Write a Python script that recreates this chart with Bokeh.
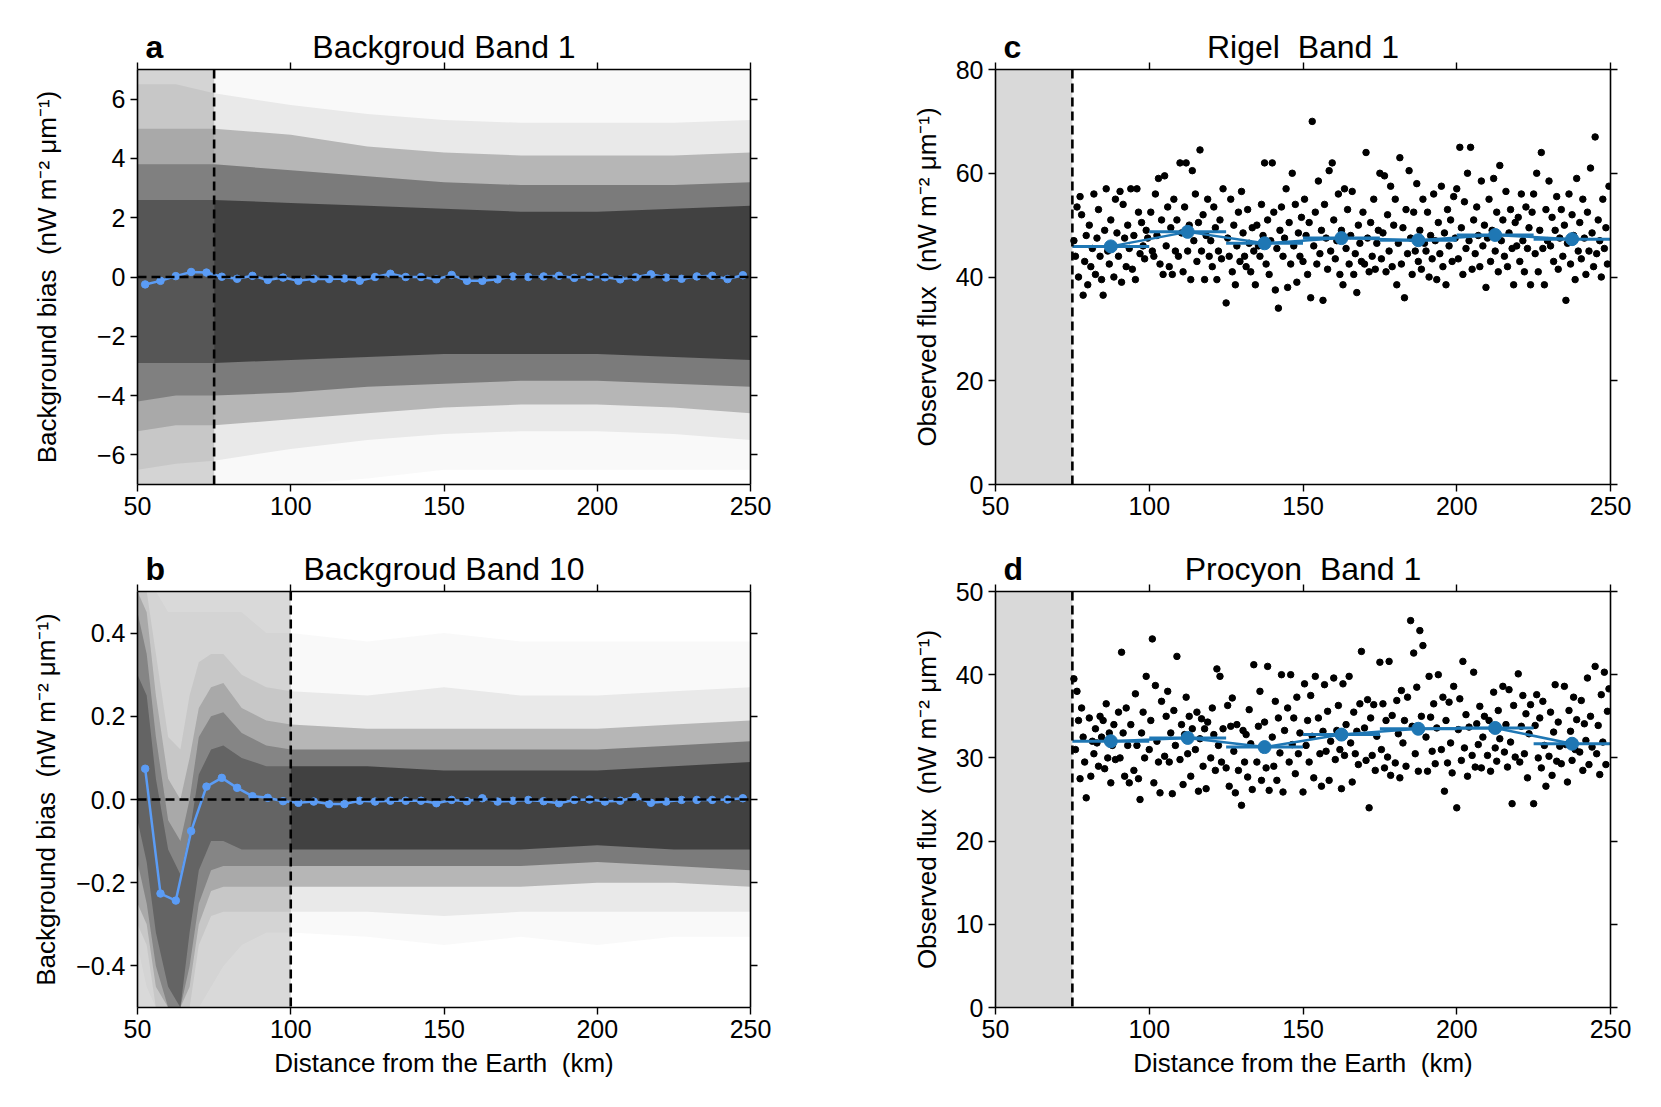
from bokeh.plotting import figure
from bokeh.models import LinearAxis, Range1d, CustomJSTickFormatter, FixedTicker, Span, Title
from bokeh.layouts import column, row
from bokeh.embed import file_html
from bokeh.resources import INLINE

FONT = "Liberation Sans"
SP2 = " \u00a0"  # double space that survives SVG whitespace collapsing

# ---------------- data ----------------
bin_x = [52.5 + 5 * i for i in range(40)]
bias_a = [-0.25, -0.13, 0.03, 0.17, 0.15, 0.01, -0.06, 0.04, -0.10, -0.02,
          -0.13, -0.06, -0.07, -0.05, -0.13, 0.00, 0.11, 0.00, 0.00, -0.08,
          0.07, -0.13, -0.13, -0.08, 0.02, 0.00, 0.02, 0.04, -0.03, 0.01,
          -0.01, -0.08, -0.01, 0.09, -0.02, -0.06, 0.02, 0.04, -0.07, 0.06]
bias_b = [0.074, -0.226, -0.243, -0.076, 0.031, 0.052, 0.028, 0.008, 0.004, -0.004,
          -0.008, -0.005, -0.011, -0.011, -0.003, -0.005, -0.003, -0.003, -0.003, -0.009,
          -0.001, -0.004, 0.003, -0.005, -0.003, -0.001, -0.004, -0.009, -0.001, 0.0,
          -0.005, -0.003, 0.006, -0.008, -0.005, -0.001, -0.001, -0.001, 0.0, 0.003]

# density envelopes of the background point clouds (outer -> core)
env_a_x = [50, 62.5, 75, 100, 125, 150, 175, 200, 225, 250]
env_a_up = [[7.0, 7.0, 7.0, 7.0, 7.0, 7.0, 7.0, 7.0, 7.0, 7.0],
            [6.5, 6.5, 6.2, 5.8, 5.5, 5.3, 5.2, 5.2, 5.2, 5.3],
            [5.0, 5.0, 5.0, 4.8, 4.4, 4.2, 4.1, 4.1, 4.1, 4.2],
            [3.8, 3.8, 3.8, 3.6, 3.4, 3.2, 3.1, 3.1, 3.1, 3.2],
            [2.6, 2.6, 2.6, 2.5, 2.4, 2.3, 2.2, 2.2, 2.3, 2.4]]
env_a_lo = [[-7.0, -7.0, -7.0, -7.0, -6.8, -6.5, -6.5, -6.5, -6.5, -6.5],
            [-6.5, -6.3, -6.2, -5.8, -5.5, -5.3, -5.2, -5.2, -5.3, -5.5],
            [-5.2, -5.0, -5.0, -4.8, -4.6, -4.4, -4.3, -4.3, -4.4, -4.6],
            [-4.2, -4.0, -4.0, -3.9, -3.7, -3.6, -3.5, -3.5, -3.6, -3.7],
            [-2.9, -2.9, -2.9, -2.8, -2.7, -2.6, -2.6, -2.6, -2.7, -2.8]]

env_b_x = [50, 53, 56, 60, 64, 67, 70, 74, 78, 84, 92, 100, 125, 150, 175, 200, 225, 250]
env_b_up = [[0.5, 0.5, 0.5, 0.45, 0.45, 0.45, 0.45, 0.45, 0.45, 0.45, 0.4, 0.4, 0.38, 0.4, 0.38, 0.38, 0.38, 0.38],
            [0.5, 0.5, 0.35, 0.15, 0.12, 0.25, 0.33, 0.35, 0.35, 0.3, 0.27, 0.26, 0.25, 0.27, 0.25, 0.25, 0.26, 0.27],
            [0.5, 0.45, 0.25, 0.05, 0.0, 0.1, 0.22, 0.27, 0.28, 0.22, 0.19, 0.18, 0.17, 0.17, 0.17, 0.17, 0.18, 0.19],
            [0.45, 0.35, 0.15, -0.05, -0.1, 0.0, 0.15, 0.2, 0.21, 0.16, 0.13, 0.12, 0.12, 0.12, 0.12, 0.12, 0.13, 0.14],
            [0.3, 0.25, 0.05, -0.12, -0.18, -0.08, 0.06, 0.12, 0.13, 0.1, 0.08, 0.08, 0.08, 0.07, 0.07, 0.07, 0.08, 0.09]]
env_b_lo = [[-0.35, -0.45, -0.5, -0.5, -0.5, -0.5, -0.5, -0.45, -0.4, -0.35, -0.32, -0.32, -0.33, -0.35, -0.33, -0.35, -0.33, -0.33],
            [-0.3, -0.35, -0.5, -0.5, -0.5, -0.5, -0.35, -0.28, -0.27, -0.27, -0.27, -0.27, -0.27, -0.28, -0.27, -0.27, -0.27, -0.27],
            [-0.25, -0.3, -0.45, -0.5, -0.5, -0.45, -0.3, -0.22, -0.21, -0.21, -0.21, -0.21, -0.21, -0.21, -0.21, -0.2, -0.2, -0.21],
            [-0.15, -0.25, -0.4, -0.5, -0.5, -0.4, -0.25, -0.17, -0.16, -0.16, -0.16, -0.16, -0.16, -0.16, -0.16, -0.15, -0.16, -0.17],
            [-0.05, -0.15, -0.32, -0.45, -0.5, -0.32, -0.17, -0.1, -0.1, -0.12, -0.12, -0.12, -0.12, -0.12, -0.12, -0.11, -0.12, -0.12]]

star_bins = [87.5, 112.5, 137.5, 162.5, 187.5, 212.5, 237.5]
rigel_mean = [45.9, 48.7, 46.5, 47.5, 47.1, 48.1, 47.3]
procyon_mean = [32.0, 32.4, 31.3, 32.8, 33.5, 33.6, 31.7]

rigel_x = [75.5, 76, 76.5, 77, 77.5, 78, 78.5, 79, 79.5, 80,
           80.5, 81, 81.5, 82, 82.5, 83, 83.5, 84, 84.5,
           85, 85.5, 86, 86.5, 87, 87.5, 88, 88.5, 89, 89.5,
           90, 90.5, 91, 91.5, 92, 92.5, 93, 93.5, 94, 94.5,
           95, 95.5, 96, 96.5, 97, 97.5, 98, 98.5, 99, 99.5,
           100.5, 101, 101.5, 102, 102.5, 103, 103.5, 104, 104.5, 105,
           105.5, 106, 106.5, 107, 107.5, 108, 108.5, 109, 109.5,
           110, 110.5, 111, 111.5, 112, 112.5, 113, 113.5, 114, 114.5,
           115, 115.5, 116, 116.5, 117, 117.5, 118, 118.5, 119, 119.5,
           120, 120.5, 121, 121.5, 122, 122.5, 123, 123.5, 124,
           125, 125.5, 126, 126.5, 127, 127.5, 128, 128.5, 129, 129.5,
           130, 130.5, 131, 131.5, 132, 132.5, 133, 133.5, 134, 134.5,
           135, 135.5, 136, 136.5, 137, 137.5, 138, 138.5, 139, 139.5,
           140, 140.5, 141, 141.5, 142, 142.5, 143, 143.5, 144, 144.5,
           145, 145.5, 146, 146.5, 147, 147.5, 148, 148.5, 149, 149.5,
           150, 150.5, 151, 151.5, 152, 152.5, 153, 153.5, 154, 154.5,
           155, 155.5, 156, 156.5, 157, 157.5, 158, 158.5, 159, 159.5,
           160, 160.5, 161, 161.5, 162, 162.5, 163, 163.5, 164, 164.5,
           165, 165.5, 166, 166.5, 167, 167.5, 168, 168.5, 169, 169.5,
           170, 170.5, 171, 171.5, 172, 172.5, 173, 173.5, 174, 174.5,
           175, 175.5, 176, 176.5, 177, 177.5, 178, 178.5, 179, 179.5,
           180, 180.5, 181, 181.5, 182, 182.5, 183, 183.5, 184, 184.5,
           185, 185.5, 186, 186.5, 187, 187.5, 188, 188.5, 189, 189.5,
           190, 190.5, 191, 191.5, 192, 192.5, 193, 193.5, 194, 194.5,
           195, 195.5, 196, 196.5, 197, 197.5, 198, 198.5, 199, 199.5,
           200, 200.5, 201, 201.5, 202, 202.5, 203, 203.5, 204, 204.5,
           205, 205.5, 206, 206.5, 207, 207.5, 208, 208.5, 209, 209.5,
           210, 210.5, 211, 211.5, 212, 212.5, 213, 213.5, 214, 214.5,
           215, 215.5, 216, 216.5, 217, 217.5, 218, 218.5, 219, 219.5,
           220, 220.5, 221, 221.5, 222, 222.5, 223, 223.5, 224, 224.5,
           225, 225.5, 226, 226.5, 227, 227.5, 228, 228.5, 229, 229.5,
           230, 230.5, 231, 231.5, 232, 232.5, 233, 233.5, 234, 234.5,
           235, 235.5, 236, 236.5, 237, 237.5, 238, 238.5, 239, 239.5,
           240, 240.5, 241, 241.5, 242, 242.5, 243, 243.5, 244, 244.5,
           245, 245.5, 246, 246.5, 247, 247.5, 248, 248.5, 249, 249.5]
rigel_y = [47, 44, 53.5, 40, 55.5, 52, 36.5, 43, 48, 38.5,
           50, 42, 45.5, 56, 40.5, 47.5, 53, 44, 39.5,
           36.5, 49, 57, 45, 42.5, 51, 46, 40, 55, 48.5,
           44, 56.5, 39, 54, 47.5, 42, 50, 45.5, 57, 41.5,
           48, 39.5, 57, 52.5, 44.5, 50.5, 46, 43.5, 49, 47.5,
           52.5, 45, 44, 56, 48, 59, 42.5, 51, 40.5, 59.5,
           46, 53.5, 42, 49.5, 40.5, 55, 45, 51, 44,
           62, 48.5, 41, 53.5, 62, 45, 50, 39.5, 60.5, 47,
           56, 43, 50.5, 64.5, 45, 52, 39.5, 48, 55, 44,
           47, 42, 53.5, 49.5, 39.5, 45, 51, 43.5, 57,
           35, 47.5, 44, 55, 41, 50, 38.5, 46, 52.5, 43,
           56.5, 48.5, 44, 42, 53, 46.5, 41, 49.5, 45, 38.5,
           50, 46, 44, 54, 48, 62, 42.5, 51, 40.5, 47,
           62, 52.5, 37.5, 45.5, 34, 49, 53.5, 44, 47.5, 57,
           38, 50.5, 42.5, 60, 46, 54, 39, 48.5, 44, 51.5,
           43, 55, 48, 40.5, 50.5, 36, 70, 46, 52.5, 42.5,
           58.5, 44.5, 49, 35.5, 54, 47.5, 41.5, 60.5, 45, 62,
           51, 43.5, 47, 56, 40.5, 49, 38.5, 57, 45.5, 53,
           42.5, 48, 56.5, 40.5, 44.5, 37, 50, 46.5, 43, 52.5,
           42.5, 64, 47.5, 41, 50.5, 44, 55, 41.5, 46.5, 49,
           60, 43.5, 48.5, 59.5, 41, 52, 45, 57.5, 42, 50,
           55, 38.5, 46.5, 63, 42.5, 49.5, 36, 53, 44.5, 60.5,
           47.5, 40.5, 52.5, 45, 58, 43, 49, 41.5, 55, 46.5,
           45, 52.5, 40, 48, 43.5, 56, 47, 39.5, 50.5, 44.5,
           57.5, 42, 48.5, 38.5, 53, 46, 51, 43, 55.5, 47.5,
           57, 43.5, 65, 49.5, 40.5, 54.5, 45.5, 60, 47, 65,
           41.5, 51, 44.5, 53.5, 48, 42, 58.5, 46, 50, 38,
           47.5, 55, 43, 49, 59, 45, 52.5, 41, 61.5, 47,
           51, 44, 56.5, 42, 48.5, 53, 45.5, 38.5, 50.5, 46,
           51.5, 43, 56, 47, 41, 53.5, 45.5, 49.5, 38.5, 52.5,
           56, 44.5, 60, 41, 49, 64, 45.5, 38.5, 53, 47,
           58.5, 46, 51.5, 43, 49, 55.5, 41.5, 47.5, 53, 44,
           50, 35.5, 46.5, 56, 42.5, 52, 48, 39.5, 59, 45,
           50.5, 43.5, 55, 47.5, 40.5, 52.5, 45, 61, 48.5, 42,
           67, 44.5, 51, 47, 40, 55, 45.5, 49.5, 42.5, 57.5]

procyon_x = [75.5, 76, 76.5, 77, 77.5, 78, 78.5, 79, 79.5,
             80.5, 81, 81.5, 82, 82.5, 83, 83.5, 84, 84.5,
             85, 85.5, 86, 86.5, 87, 87.5, 88, 88.5, 89,
             90, 90.5, 91, 91.5, 92, 92.5, 93, 93.5, 94,
             95, 95.5, 96, 96.5, 97, 97.5, 98, 98.5, 99,
             100, 100.5, 101, 101.5, 102, 102.5, 103, 103.5, 104,
             105, 105.5, 106, 106.5, 107, 107.5, 108, 108.5, 109,
             110, 110.5, 111, 111.5, 112, 112.5, 113, 113.5, 114,
             115, 115.5, 116, 116.5, 117, 117.5, 118, 118.5, 119,
             120, 120.5, 121, 121.5, 122, 122.5, 123, 123.5, 124,
             125, 125.5, 126, 126.5, 127, 127.5, 128, 128.5, 129,
             130, 130.5, 131, 131.5, 132, 132.5, 133, 133.5, 134,
             135, 135.5, 136, 136.5, 137, 137.5, 138, 138.5, 139,
             140, 140.5, 141, 141.5, 142, 142.5, 143, 143.5, 144,
             145, 145.5, 146, 146.5, 147, 147.5, 148, 148.5, 149,
             150, 150.5, 151, 151.5, 152, 152.5, 153, 153.5, 154,
             155, 155.5, 156, 156.5, 157, 157.5, 158, 158.5, 159,
             160, 160.5, 161, 161.5, 162, 162.5, 163, 163.5, 164,
             165, 165.5, 166, 166.5, 167, 167.5, 168, 168.5, 169,
             170, 170.5, 171, 171.5, 172, 172.5, 173, 173.5, 174,
             175, 175.5, 176, 176.5, 177, 177.5, 178, 178.5, 179,
             180, 180.5, 181, 181.5, 182, 182.5, 183, 183.5, 184,
             185, 185.5, 186, 186.5, 187, 187.5, 188, 188.5, 189,
             190, 190.5, 191, 191.5, 192, 192.5, 193, 193.5, 194,
             195, 195.5, 196, 196.5, 197, 197.5, 198, 198.5, 199,
             200, 200.5, 201, 201.5, 202, 202.5, 203, 203.5, 204,
             205, 205.5, 206, 206.5, 207, 207.5, 208, 208.5, 209,
             210, 210.5, 211, 211.5, 212, 212.5, 213, 213.5, 214,
             215, 215.5, 216, 216.5, 217, 217.5, 218, 218.5, 219,
             220, 220.5, 221, 221.5, 222, 222.5, 223, 223.5, 224,
             225, 225.5, 226, 226.5, 227, 227.5, 228, 228.5, 229,
             230, 230.5, 231, 231.5, 232, 232.5, 233, 233.5, 234,
             235, 235.5, 236, 236.5, 237, 237.5, 238, 238.5, 239,
             240, 240.5, 241, 241.5, 242, 242.5, 243, 243.5, 244,
             245, 245.5, 246, 246.5, 247, 247.5, 248, 248.5, 249, 249.5]
procyon_y = [39.5, 31, 38, 34.5, 27.5, 36, 32.5, 29.5, 25.2,
             34.8, 27.8, 32, 30.5, 33.5, 31.8, 29, 35, 32.5,
             34.5, 28.7, 36.5, 30, 33, 27, 31.5, 34, 29.8,
             35.5, 30, 42.7, 33, 27.8, 36, 31.5, 27, 34,
             28.5, 37.7, 31.5, 27.5, 25, 33, 35.5, 30, 39.8,
             31, 34.5, 44.3, 27, 38.7, 32, 29.5, 25.8, 36.8,
             30.2, 35, 38, 29.5, 33, 25.7, 35.7, 31.5, 42.2,
             29.8, 34, 26.8, 32.8, 37.3, 30.5, 35, 27.8, 33.5,
             31, 35.5, 26, 32.3, 34.7, 29, 33.5, 26.3, 34.3,
             30, 36, 32.8, 28.5, 40.7, 31.5, 39.8, 29.5, 33.5,
             28.8, 36.3, 26.6, 33.8, 37.2, 30.8, 25.8, 34, 28.5,
             24.3, 33.3, 29.5, 32.8, 27.7, 35.8, 31.7, 26.2, 41.2,
             29.5, 33.8, 38, 27.3, 31, 34.3, 28.8, 41, 26.1,
             32.5, 29, 36.8, 27.3, 34.8, 30.6, 40, 25.9, 33.3,
             36, 29.5, 40, 31.6, 34.8, 28.1, 37.3, 30.5, 33,
             25.9, 38.9, 31.5, 34.5, 29.5, 37.5, 32.6, 27.6, 39.8,
             34.8, 30.5, 26.6, 33.2, 38.8, 30.8, 35.6, 27.3, 32,
             39.6, 29.8, 33.3, 36.3, 31, 26.3, 38.9, 30.3, 34,
             39.8, 31.8, 27.1, 35.5, 30.5, 33.2, 29.2, 36.5, 42.8,
             33.6, 29.7, 37, 24, 34.8, 30.3, 36.4, 28.5, 32.6,
             41.5, 31, 36.5, 28.8, 34.5, 30.1, 41.6, 27.9, 35.1,
             29.4, 36.9, 32.9, 27.6, 38.1, 31.8, 34.5, 29, 37.3,
             46.5, 33.8, 42.6, 30.5, 38.5, 28.4, 45.3, 35, 43.5,
             32.5, 28.4, 39.8, 34.9, 30.8, 36.5, 29.3, 33.6, 40,
             31, 37.3, 26, 34.5, 29.4, 36.7, 31.8, 28.2, 38.6,
             24, 33.4, 37.1, 29.7, 41.6, 31.2, 35.2, 27.8, 33.7,
             30.3, 40.3, 28.9, 34.1, 31.6, 36.2, 28.8, 32.5, 35,
             30.3, 34.5, 28.4, 33.5, 37.9, 31.2, 29.6, 35.7, 32.3,
             38.6, 30.7, 34, 28.9, 38.2, 31.9, 24.5, 36.3, 30.1,
             40.1, 29.5, 33.8, 37.5, 30.5, 35.3, 27.6, 32.9, 36.4,
             24.5, 33.9, 37.6, 30, 34.8, 28.8, 36.8, 31.5, 26.6,
             30.2, 35.5, 27.9, 33.1, 38.8, 29.6, 34.3, 31.4, 29.3,
             38.6, 31.6, 27.1, 35.7, 33.2, 29.7, 37.3, 31, 34.6,
             30.7, 36.9, 28.5, 34.1, 32.1, 39.6, 29.2, 35, 31.3,
             41, 30.5, 33.9, 28, 37.6, 31.9, 40.3, 29.2, 35.6, 38.3]

x_ticks = [50, 100, 150, 200, 250]
UNIT = "(nW m\u207b\u00b2 \u03bcm\u207b\u00b9)"

# ---------------- helpers ----------------
def signed(decimals):
    return CustomJSTickFormatter(code=(
        "var s = Math.abs(tick).toFixed(%d);"
        "return tick < -1e-9 ? '\\u2212' + s : s;" % decimals))

blank = "return '';"


def make_panel(frame_w, frame_h, borders, yr, yticks, ydec, title, letter,
               ylabel, ylabel_standoff, xlabel=None):
    bl, br, bt, bb = borders
    p = figure(frame_width=frame_w, frame_height=frame_h,
               x_range=Range1d(50, 250), y_range=Range1d(*yr),
               output_backend="svg", toolbar_location=None,
               min_border_left=bl, min_border_right=br,
               min_border_top=bt, min_border_bottom=bb,
               x_axis_location=None, y_axis_location=None)
    p.outline_line_color = None
    p.grid.visible = False
    p.background_fill_color = "white"
    p.border_fill_color = "white"

    def style(ax, labels=True):
        ax.axis_line_width = 1.6
        ax.axis_line_color = "black"
        ax.major_tick_line_width = 1.4
        ax.major_tick_out = 7
        ax.major_tick_in = 0
        ax.minor_tick_out = 0
        ax.minor_tick_in = 0
        ax.major_label_text_font = FONT
        ax.major_label_text_font_size = "25px"
        ax.major_label_text_color = "black"
        ax.major_label_standoff = 5 if labels else 0
        ax.axis_label_text_font = FONT
        ax.axis_label_text_font_size = "26px"
        ax.axis_label_text_font_style = "normal"
        ax.axis_label_text_color = "black"

    xb = LinearAxis(ticker=FixedTicker(ticks=x_ticks))
    style(xb)
    if xlabel:
        xb.axis_label = xlabel
        xb.axis_label_standoff = 7
    p.add_layout(xb, "below")
    xa = LinearAxis(ticker=FixedTicker(ticks=x_ticks), formatter=CustomJSTickFormatter(code=blank))
    style(xa, False)
    xa.major_label_text_font_size = "1px"
    p.add_layout(xa, "above")

    yl = LinearAxis(ticker=FixedTicker(ticks=yticks), formatter=signed(ydec))
    style(yl)
    yl.axis_label = ylabel
    yl.axis_label_standoff = ylabel_standoff
    p.add_layout(yl, "left")
    yr_ax = LinearAxis(ticker=FixedTicker(ticks=yticks), formatter=CustomJSTickFormatter(code=blank))
    style(yr_ax, False)
    yr_ax.major_label_text_font_size = "1px"
    p.add_layout(yr_ax, "right")

    # main title (outer row), pulled down onto the letter's baseline
    p.title.text = title
    p.title.align = "center"
    p.title.text_font = FONT
    p.title.text_font_size = "32px"
    p.title.text_font_style = "normal"
    p.title.text_color = "black"
    p.title.standoff = -71

    # panel letter (inner row)
    p.add_layout(Title(text=letter, align="left", offset=8, standoff=-5,
                       text_font=FONT, text_font_size="32px", text_font_style="bold",
                       text_color="black"), "above")
    return p


def shade(p, x0, x1, yr):
    p.quad(left=[x0], right=[x1], bottom=[yr[0]], top=[yr[1]],
           fill_color="#d9d9d9", line_color=None)


def vdash(p, x):
    p.add_layout(Span(location=x, dimension="height", line_color="black",
                      line_width=2.6, line_dash="9 5"))


def hdash(p):
    p.add_layout(Span(location=0, dimension="width", line_color="black",
                      line_width=2.4, line_dash="9 5"))


def cloud(p, xs, ups, los, split_x, alphas_left, alphas_right):
    il = [i for i, v in enumerate(xs) if v <= split_x]
    ir = [i for i, v in enumerate(xs) if v >= split_x]
    for k in range(len(ups)):
        for idx, al in ((il, alphas_left[k]), (ir, alphas_right[k])):
            p.varea(x=[xs[i] for i in idx], y1=[los[k][i] for i in idx],
                    y2=[ups[k][i] for i in idx], fill_color="#333333", fill_alpha=al)


BLUE_BG = "#5b9cf5"
BLUE = "#1f77b4"
A_RIGHT = [0.03, 0.08, 0.28, 0.45, 0.80]

# ---------------- panel a ----------------
yr_a = (-7, 7)
pa = make_panel(613, 415, (137, 58, 69, 56), yr_a, [-6, -4, -2, 0, 2, 4, 6], 0,
                "Backgroud Band 1", "a",
                "Background bias" + SP2 + UNIT, 32)
shade(pa, 50, 75, yr_a)
cloud(pa, env_a_x, env_a_up, env_a_lo, 75, [0.03, 0.08, 0.2, 0.35, 0.55], A_RIGHT)
vdash(pa, 75)
hdash(pa)
pa.line(bin_x, bias_a, line_color=BLUE_BG, line_width=2.5)
pa.scatter(bin_x, bias_a, size=7.5, fill_color=BLUE_BG, line_color=BLUE_BG)

# ---------------- panel b ----------------
yr_b = (-0.5, 0.5)
pb = make_panel(613, 416, (137, 58, 51, 92), yr_b, [-0.4, -0.2, 0.0, 0.2, 0.4], 1,
                "Backgroud Band 10", "b",
                "Background bias" + SP2 + UNIT, 12,
                "Distance from the Earth" + SP2 + "(km)")
shade(pb, 50, 100, yr_b)
cloud(pb, env_b_x, env_b_up, env_b_lo, 100, [0.03, 0.08, 0.2, 0.3, 0.4], A_RIGHT)
vdash(pb, 100)
hdash(pb)
pb.line(bin_x, bias_b, line_color=BLUE_BG, line_width=2.5)
pb.scatter(bin_x, bias_b, size=7.5, fill_color=BLUE_BG, line_color=BLUE_BG)


# ---------------- panels c, d ----------------
def star_panel(p, xs, ys, means):
    shade(p, 50, 75, (p.y_range.start, p.y_range.end))
    vdash(p, 75)
    p.scatter(xs, ys, size=6.5, fill_color="black", line_color="black")
    p.segment(x0=[b - 12.5 for b in star_bins], y0=means,
              x1=[b + 12.5 for b in star_bins], y1=means,
              line_color=BLUE, line_width=3)
    p.line(star_bins, means, line_color=BLUE, line_width=2.5)
    p.scatter(star_bins, means, size=13, fill_color=BLUE, line_color=BLUE)


pc = make_panel(615, 415, (187, 43, 69, 56), (0, 80), [0, 20, 40, 60, 80], 0,
                "Rigel" + SP2 + "Band 1", "c",
                "Observed flux" + SP2 + UNIT, 11)
star_panel(pc, rigel_x, rigel_y, rigel_mean)

pd = make_panel(615, 416, (187, 43, 51, 92), (0, 50), [0, 10, 20, 30, 40, 50], 0,
                "Procyon" + SP2 + "Band 1", "d",
                "Observed flux" + SP2 + UNIT, 11,
                "Distance from the Earth" + SP2 + "(km)")
star_panel(pd, procyon_x, procyon_y, procyon_mean)

layout = column(row(pa, pc), row(pb, pd))
open("out.html", "w").write(file_html(layout, INLINE))
